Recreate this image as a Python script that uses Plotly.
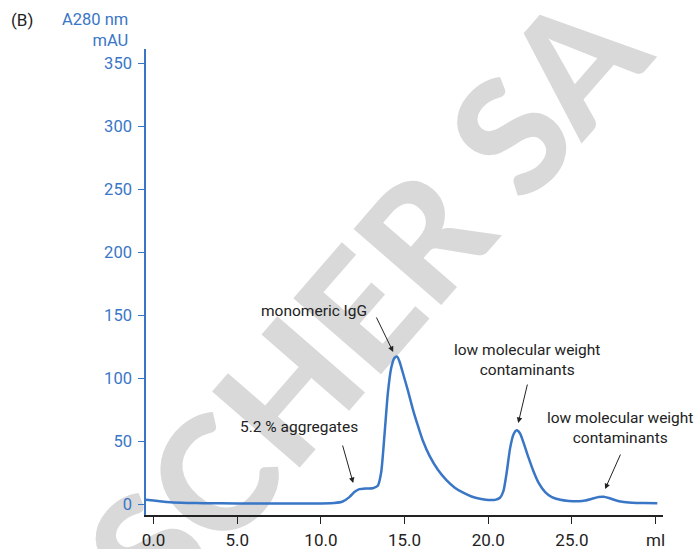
import plotly.graph_objects as go

BLUE = "#3a76c6"
INK = "#222222"
WATERMARK = "#d9d9d9"

# elution volume (ml) and absorbance A280 (mAU)
volume_ml = [
    -0.45, 0.0, 0.5, 1.0, 2.0, 3.0, 5.0, 8.0, 10.0, 10.8, 11.3, 11.7, 12.0, 12.3,
    12.7, 13.1, 13.4, 13.6, 13.8, 14.0, 14.2, 14.4, 14.55, 14.7, 14.9, 15.2, 15.5,
    15.8, 16.1, 16.5, 17.0, 17.5, 18.0, 18.5, 19.0, 19.5, 20.0, 20.4, 20.7, 20.9,
    21.1, 21.3, 21.5, 21.7, 21.9, 22.1, 22.4, 22.7, 23.0, 23.4, 23.8, 24.3, 24.8,
    25.4, 25.8, 26.2, 26.6, 26.9, 27.2, 27.6, 28.0, 28.6, 29.3, 30.1,
]
a280_mau = [
    3.4, 2.8, 2.0, 1.4, 0.9, 0.7, 0.5, 0.4, 0.5, 0.8, 2.0, 5.5, 9.5, 11.8,
    12.4, 12.6, 14.5, 25, 55, 88, 108, 116, 117, 113, 104, 90, 75,
    62, 50, 38, 27, 19, 13, 9, 6, 4.2, 3.3, 3.3, 5, 10,
    25, 44, 55, 58.5, 56, 49, 37, 26, 17, 9.5, 5.5, 3.4, 2.5,
    2.2, 2.8, 4.2, 5.6, 5.8, 4.8, 3.0, 1.8, 1.1, 0.8, 0.7,
]

x_ticks = [0, 5, 10, 15, 20, 25, 30]
x_ticktext = ["0.0", "5.0", "10.0", "15.0", "20.0", "25.0", "ml"]
y_ticks = [0, 50, 100, 150, 200, 250, 300, 350]

# (text, text x, text y, arrow head x, arrow head y, arrow dx px, arrow dy px)
labels = [
    ("monomeric IgG", 9.60, 153.3, 14.32, 120.7, -17.5, -36),
    ("low molecular weight<br>contaminants", 22.32, 114.4, 21.79, 64.3, 9.5, -40),
    ("low molecular weight<br>contaminants", 27.85, 60, 26.98, 11.9, 16, -36),
    ("5.2 % aggregates", 8.70, 61.2, 11.93, 16.7, -11, -39),
]

fig = go.Figure()
fig.add_trace(
    go.Scatter(
        x=volume_ml,
        y=a280_mau,
        mode="lines",
        line=dict(color=BLUE, width=2.5, shape="spline", smoothing=0.6),
        hoverinfo="skip",
    )
)

for text, tx, ty, hx, hy, dx, dy in labels:
    fig.add_annotation(
        x=tx, y=ty, text=text, showarrow=False,
        font=dict(family="Roboto, Arial, sans-serif", size=15.5, color=INK),
        align="center",
    )
    fig.add_annotation(
        x=hx, y=hy, ax=dx, ay=dy, text="", showarrow=True,
        arrowhead=2, arrowsize=1.1, arrowwidth=1, arrowcolor=INK, standoff=0,
    )

# y axis title and panel letter
fig.add_annotation(
    xref="paper", yref="paper", x=0, y=1, xanchor="right", yanchor="bottom",
    xshift=-16, yshift=-3, text="A280 nm<br>mAU", showarrow=False, align="right",
    font=dict(family="Roboto, Arial, sans-serif", size=16.5, color=BLUE),
)
fig.add_annotation(
    xref="paper", yref="paper", x=-0.24, y=1, xanchor="center", yanchor="bottom",
    yshift=17, text="(B)", showarrow=False,
    font=dict(family="Roboto, Arial, sans-serif", size=17, color=INK),
)

# watermark behind the curve
fig.add_shape(
    type="rect", xref="paper", yref="paper", x0=0.37, x1=0.466, y0=0.42, y1=0.51,
    line=dict(width=0), fillcolor="rgba(0,0,0,0)", layer="below",
    label=dict(
        text="SCHER SA", textangle=-49, textposition="middle center",
        font=dict(family="Lato, Liberation Sans, Arial, sans-serif", size=160,
                  color=WATERMARK, weight=900),
    ),
)

fig.update_layout(
    width=696,
    height=549,
    margin=dict(l=146, r=33, t=49, b=34),
    paper_bgcolor="white",
    plot_bgcolor="rgba(0,0,0,0)",
    showlegend=False,
    font=dict(family="Roboto, Arial, sans-serif", color=INK),
)
fig.update_xaxes(
    range=[-0.45, 30.44],
    tickvals=x_ticks,
    ticktext=x_ticktext,
    ticks="outside",
    ticklen=7,
    tickcolor=INK,
    showline=True,
    linecolor=INK,
    linewidth=1.5,
    showgrid=False,
    zeroline=False,
    automargin=False,
    ticklabelstandoff=2,
    tickfont=dict(size=17, color=INK),
)
fig.update_yaxes(
    range=[-8.7, 361.2],
    tickvals=y_ticks,
    ticks="outside",
    ticklen=6,
    tickcolor=BLUE,
    showline=True,
    linecolor=BLUE,
    linewidth=1.5,
    showgrid=False,
    zeroline=False,
    automargin=False,
    ticklabelstandoff=3,
    tickfont=dict(size=16.5, color=BLUE),
)

fig.write_html(
    "out.html",
    config={"displayModeBar": False},
    post_script="document.body.style.margin = '0';",
)
